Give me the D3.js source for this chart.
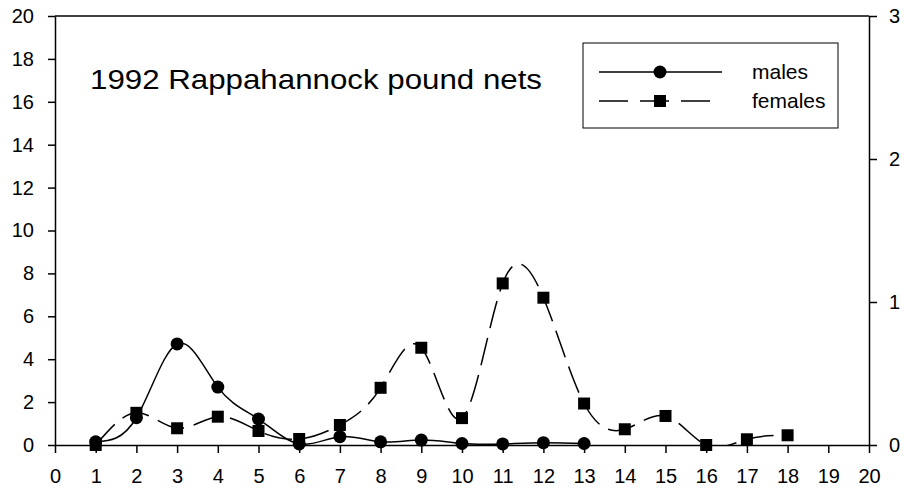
<!DOCTYPE html>
<html>
<head>
<meta charset="utf-8">
<script src="https://cdn.jsdelivr.net/npm/d3@7"></script>
<style>
  html, body { margin: 0; padding: 0; background: #fff; }
  svg text { font-family: "Liberation Sans", Arial, sans-serif; fill: #000; }
</style>
</head>
<body>
<svg id="chart" width="904" height="490"></svg>
<script>
// Length classes (x) and catch indices for each sex
const xTicks = d3.range(0, 21, 1);
const leftTicks = d3.range(0, 21, 2);
const rightTicks = [0, 1, 2, 3];

const maleX = [1, 2, 3, 4, 5, 6, 7, 8, 9, 10, 11, 12, 13];
const maleY = [0.15, 1.27, 4.71, 2.70, 1.21, 0.05, 0.39, 0.15, 0.23, 0.07, 0.05, 0.11, 0.07];

const femaleX = [1, 2, 3, 4, 5, 6, 7, 8, 9, 10, 11, 12, 13, 14, 15, 16, 17, 18];
// females are plotted against the right-hand axis (0-3)
const femaleY = [0, 0.225, 0.117, 0.198, 0.098, 0.042, 0.14, 0.40, 0.68, 0.188, 1.13, 1.03, 0.29, 0.11, 0.203, 0, 0.04, 0.068];

const title = "1992 Rappahannock pound nets";
const seriesNames = ["males", "females"];

const svg = d3.select("#chart");
const L = 55, R = 869, T = 16, B = 445;

const x = d3.scaleLinear().domain([0, 20]).range([L, R]);
const yL = d3.scaleLinear().domain([0, 20]).range([B, T]);
const yR = d3.scaleLinear().domain([0, 3]).range([B, T]);

svg.append("defs").append("clipPath").attr("id", "plotClip")
  .append("rect").attr("x", L).attr("y", T).attr("width", R - L).attr("height", B - T);

// frame: top border
svg.append("line").attr("x1", L).attr("x2", R).attr("y1", T).attr("y2", T)
  .attr("stroke", "#000").attr("stroke-width", 1.5);

function styleAxis(g, size) {
  g.selectAll(".domain").attr("stroke", "#000").attr("stroke-width", 1.5);
  g.selectAll(".tick line").attr("stroke", "#000").attr("stroke-width", 1.5);
  g.selectAll(".tick text").style("font-size", size + "px")
    .style("font-family", '"Liberation Sans", Arial, sans-serif');
}

// bottom axis
const gx = svg.append("g").attr("transform", `translate(0,${B})`)
  .call(d3.axisBottom(x).tickValues(xTicks).tickFormat(d3.format("d"))
    .tickSizeInner(8).tickSizeOuter(0).tickPadding(16));
styleAxis(gx, 20);

// left axis
const gl = svg.append("g").attr("transform", `translate(${L},0)`)
  .call(d3.axisLeft(yL).tickValues(leftTicks).tickFormat(d3.format("d"))
    .tickSizeInner(7).tickSizeOuter(0).tickPadding(14));
styleAxis(gl, 20);

// right axis
const gr = svg.append("g").attr("transform", `translate(${R},0)`)
  .call(d3.axisRight(yR).tickValues(rightTicks).tickFormat(d3.format("d"))
    .tickSizeInner(8).tickSizeOuter(0).tickPadding(12));
styleAxis(gr, 20);

const plot = svg.append("g").attr("clip-path", "url(#plotClip)");

const maleData = maleX.map((v, i) => [v, maleY[i]]);
const femaleData = femaleX.map((v, i) => [v, femaleY[i]]);

const maleLine = d3.line().x(d => x(d[0])).y(d => yL(d[1])).curve(d3.curveNatural);
const femaleLine = d3.line().x(d => x(d[0])).y(d => yR(d[1])).curve(d3.curveNatural);

plot.append("path").datum(femaleData).attr("d", femaleLine)
  .attr("fill", "none").attr("stroke", "#000").attr("stroke-width", 1.5)
  .attr("stroke-dasharray", "28,10");
plot.append("path").datum(maleData).attr("d", maleLine)
  .attr("fill", "none").attr("stroke", "#000").attr("stroke-width", 1.5);

const sq = 12;
svg.append("g").selectAll("rect").data(femaleData).join("rect")
  .attr("x", d => x(d[0]) - sq / 2).attr("y", d => yR(d[1]) - sq / 2)
  .attr("width", sq).attr("height", sq).attr("fill", "#000");

svg.append("g").selectAll("circle").data(maleData).join("circle")
  .attr("cx", d => x(d[0])).attr("cy", d => yL(d[1])).attr("r", 6.5).attr("fill", "#000");

// title
svg.append("text").attr("x", 90).attr("y", 89)
  .attr("textLength", 452).attr("lengthAdjust", "spacingAndGlyphs")
  .style("font-size", "27.5px").text(title);

// legend
const lg = svg.append("g");
lg.append("rect").attr("x", 583).attr("y", 43).attr("width", 255).attr("height", 85)
  .attr("fill", "#fff").attr("stroke", "#000").attr("stroke-width", 1);
lg.append("line").attr("x1", 599).attr("x2", 722).attr("y1", 72).attr("y2", 72)
  .attr("stroke", "#000").attr("stroke-width", 1.5);
lg.append("circle").attr("cx", 660).attr("cy", 72).attr("r", 6.5).attr("fill", "#000");
lg.append("line").attr("x1", 599).attr("x2", 722).attr("y1", 101).attr("y2", 101)
  .attr("stroke", "#000").attr("stroke-width", 1.5).attr("stroke-dasharray", "29,12");
lg.append("rect").attr("x", 654).attr("y", 95).attr("width", sq).attr("height", sq).attr("fill", "#000");
lg.append("text").attr("x", 752).attr("y", 79).style("font-size", "21px").text(seriesNames[0]);
lg.append("text").attr("x", 752).attr("y", 108).style("font-size", "21px").text(seriesNames[1]);
</script>
</body>
</html>
